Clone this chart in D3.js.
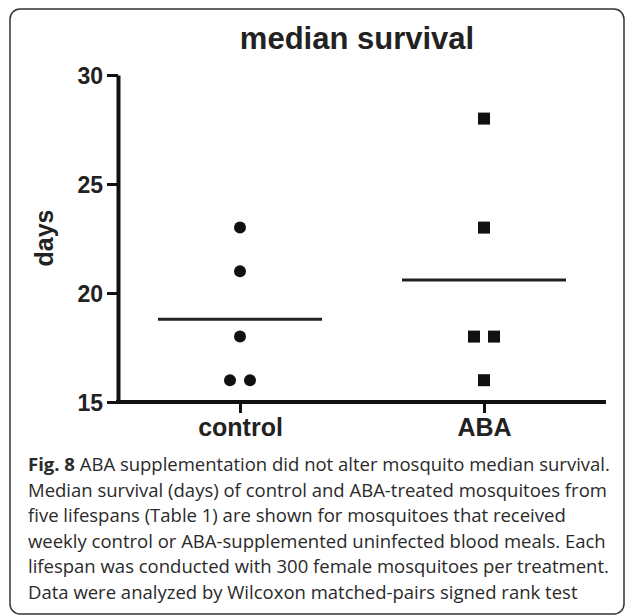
<!DOCTYPE html>
<html>
<head>
<meta charset="utf-8">
<script src="https://cdn.jsdelivr.net/npm/d3@7"></script>
<style>
  body { margin: 0; background: #fff; }
  svg { display: block; }
  .axis text { font-family: "Liberation Sans", Arial, sans-serif; font-weight: bold; fill: #222; }
  .caption { font-family: "Open Sans", sans-serif; font-size: 18.5px; fill: #2a2a2a; }
</style>
</head>
<body>
<div id="chart"></div>
<script>
var groups = ['control', 'ABA'];
var controlDays = [23, 21, 18, 16, 16];
var abaDays = [28, 23, 18, 18, 16];
var yTicks = [15, 20, 25, 30];
var captionLines = [
  'ABA supplementation did not alter mosquito median survival.',
  'Median survival (days) of control and ABA-treated mosquitoes from',
  'five lifespans (Table 1) are shown for mosquitoes that received',
  'weekly control or ABA-supplemented uninfected blood meals. Each',
  'lifespan was conducted with 300 female mosquitoes per treatment.',
  'Data were analyzed by Wilcoxon matched-pairs signed rank test'
];

var width = 627, height = 616;

var svg = d3.select('#chart').append('svg')
    .attr('width', width)
    .attr('height', height);

// panel frame
svg.append('rect')
    .attr('x', 10).attr('y', 9)
    .attr('width', 614).attr('height', 605)
    .attr('rx', 10)
    .attr('fill', 'none')
    .attr('stroke', '#333')
    .attr('stroke-width', 1.5);

var x = d3.scalePoint().domain(groups).range([118, 606]).padding(0.5);
var y = d3.scaleLinear().domain([15, 30]).range([402, 75]);

// y axis
var yAxis = svg.append('g')
    .attr('class', 'axis')
    .attr('transform', 'translate(118,0)')
    .call(d3.axisLeft(y).tickValues(yTicks).tickSize(11).tickSizeOuter(0).tickPadding(4));
yAxis.select('.domain').attr('stroke', '#111').attr('stroke-width', 4);
yAxis.selectAll('.tick line').attr('stroke', '#111').attr('stroke-width', 3);
yAxis.selectAll('.tick text').attr('font-size', 23).attr('dy', '0.36em');

// x axis
var xAxis = svg.append('g')
    .attr('class', 'axis')
    .attr('transform', 'translate(0,402)')
    .call(d3.axisBottom(x).tickSize(11).tickSizeOuter(0));
xAxis.select('.domain').attr('stroke', '#111').attr('stroke-width', 4)
    .attr('d', 'M' + (x.range()[0] - 2) + ',0H' + x.range()[1]);
xAxis.selectAll('.tick line').attr('stroke', '#111').attr('stroke-width', 3);
xAxis.selectAll('.tick text').attr('font-size', 25).attr('y', 34).attr('dy', 0);

// axis title
svg.append('text')
    .attr('transform', 'translate(53,238) rotate(-90)')
    .attr('text-anchor', 'middle')
    .attr('font-family', '"Liberation Sans", Arial, sans-serif')
    .attr('font-weight', 'bold')
    .attr('font-size', 25)
    .attr('fill', '#222')
    .text('days');

// chart title
svg.append('text')
    .attr('x', 357).attr('y', 49)
    .attr('text-anchor', 'middle')
    .attr('font-family', '"Liberation Sans", Arial, sans-serif')
    .attr('font-weight', 'bold')
    .attr('font-size', 31)
    .attr('fill', '#222')
    .text('median survival');

// spread tied values side by side
function spread(values, group) {
  return values.map(function(v, i) {
    var same = values.filter(function(w) { return w === v; });
    var k = values.slice(0, i).filter(function(w) { return w === v; }).length;
    return { group: group, value: v, dx: (k - (same.length - 1) / 2) * 20 };
  });
}

var controlPts = spread(controlDays, 'control');
var abaPts = spread(abaDays, 'ABA');

svg.selectAll('.dot')
    .data(controlPts)
  .enter().append('circle')
    .attr('class', 'dot')
    .attr('cx', function(d) { return x(d.group) + d.dx; })
    .attr('cy', function(d) { return y(d.value); })
    .attr('r', 6)
    .attr('fill', '#111');

svg.selectAll('.sq')
    .data(abaPts)
  .enter().append('rect')
    .attr('class', 'sq')
    .attr('x', function(d) { return x(d.group) + d.dx - 6; })
    .attr('y', function(d) { return y(d.value) - 6; })
    .attr('width', 12)
    .attr('height', 12)
    .attr('fill', '#111');

// mean lines
var means = [
  { group: 'control', value: d3.mean(controlDays) },
  { group: 'ABA', value: d3.mean(abaDays) }
];
svg.selectAll('.mean')
    .data(means)
  .enter().append('line')
    .attr('class', 'mean')
    .attr('x1', function(d) { return x(d.group) - 82; })
    .attr('x2', function(d) { return x(d.group) + 82; })
    .attr('y1', function(d) { return y(d.value); })
    .attr('y2', function(d) { return y(d.value); })
    .attr('stroke', '#222')
    .attr('stroke-width', 3);

// caption
var caption = svg.append('g').attr('class', 'caption');
captionLines.forEach(function(line, i) {
  var t = caption.append('text')
      .attr('x', 28)
      .attr('y', 471 + i * 25.6);
  if (i === 0) {
    t.append('tspan').attr('font-weight', 'bold').text('Fig. 8');
    t.append('tspan').text(' ' + line);
  } else {
    t.text(line);
  }
});
</script>
</body>
</html>
